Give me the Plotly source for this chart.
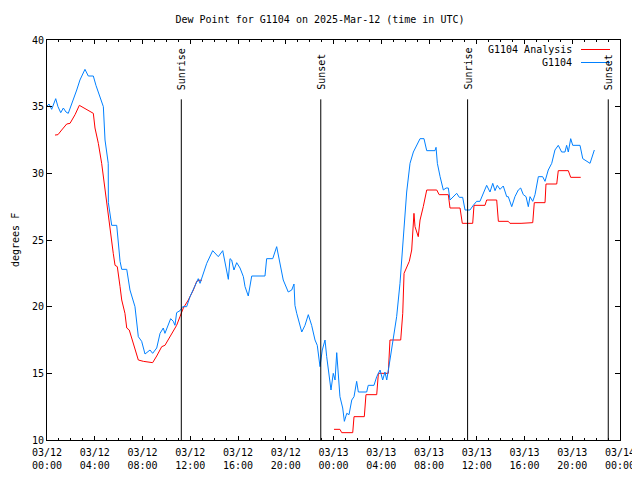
import plotly.graph_objects as go
import pandas as pd

base = pd.Timestamp("2025-03-12 00:00")

# G1104 observations: hours after 03/12 00:00 UTC, dew point (F)
obs_hours = [0.0, 0.17, 0.39, 0.73, 0.92, 1.15, 1.37, 1.59, 1.78, 2.09, 2.49, 2.76, 3.18, 3.46, 3.88,
             4.10, 4.44, 4.72, 4.86, 5.13, 5.14, 5.42, 5.84, 6.12, 6.26, 6.68, 6.95, 7.37, 7.65, 7.93,
             8.21, 8.63, 8.85, 9.19, 9.47, 9.74, 9.88, 10.36, 10.58, 10.72, 10.86, 11.14, 11.37, 11.70,
             11.98, 12.67, 12.82, 13.09, 13.38, 13.88, 14.22, 14.35, 14.72, 15.05, 15.19, 15.33, 15.47,
             15.66, 15.89, 16.17, 16.45, 16.59, 16.86, 17.15, 18.26, 18.40, 18.91, 19.24, 19.52, 19.79,
             20.21, 20.50, 20.69, 20.77, 20.92, 21.34, 21.61, 21.89, 22.17, 22.45, 22.64, 22.87, 23.06,
             23.29, 23.43, 23.65, 23.79, 23.98, 24.13, 24.27, 24.40, 24.54, 24.77, 24.91, 25.11, 25.30,
             25.53, 25.72, 25.94, 26.08, 26.78, 26.91, 27.39, 27.62, 27.90, 28.12, 28.31, 28.46, 28.73,
             29.01, 29.29, 29.57, 29.85, 30.13, 30.41, 30.69, 31.25, 31.58, 31.81, 32.50, 32.59, 32.70,
             32.93, 33.20, 33.43, 33.62, 33.76, 33.99, 34.32, 34.54, 34.82, 35.02, 35.43, 35.71, 35.99,
             36.27, 36.55, 36.83, 37.11, 37.34, 37.53, 37.72, 37.95, 38.22, 38.51, 38.64, 38.93, 39.20,
             39.48, 39.68, 39.90, 40.13, 40.32, 40.46, 40.69, 40.88, 41.16, 41.52, 41.72, 41.99, 42.28,
             42.55, 42.83, 43.11, 43.39, 43.53, 43.67, 43.87, 44.04, 44.65, 44.88, 45.35, 45.49, 45.85]
obs_values = [35.05, 35.2, 34.8, 35.6, 35.0, 34.55, 34.9, 34.6, 34.5, 35.2, 36.25, 37.0, 37.8, 37.3, 37.3,
              36.6, 35.75, 35.0, 32.5, 30.75, 27.8, 26.1, 26.1, 23.4, 22.8, 22.8, 21.25, 20.0, 17.75, 17.4,
              16.45, 16.75, 16.5, 16.9, 18.0, 18.4, 18.0, 19.1, 18.9, 18.6, 19.55, 19.7, 20.0, 20.0,
              20.75, 22.1, 21.75, 22.4, 23.25, 24.2, 23.9, 23.75, 24.2, 22.75, 22.05, 23.6, 23.5,
              22.75, 23.3, 22.9, 22.25, 21.5, 20.8, 22.3, 22.3, 23.6, 23.6, 24.5, 23.25, 22.0,
              21.1, 21.25, 21.7, 20.1, 19.5, 18.1, 18.6, 19.4, 18.6, 17.5, 17.1, 15.5, 16.75,
              17.5, 16.25, 14.5, 13.75, 15.0, 14.5, 16.55, 14.5, 13.25, 12.4, 11.4, 12.0, 11.9,
              13.0, 13.25, 14.4, 13.6, 13.6, 14.1, 14.1, 14.75, 15.25, 14.5, 15.1, 14.5, 16.0,
              17.75, 19.25, 21.75, 25.2, 28.6, 30.75, 31.6, 32.6, 32.6, 31.7, 31.7, 31.95, 30.75,
              29.75, 28.75, 28.9, 28.9, 28.0, 28.2, 28.5, 28.2, 28.2, 27.25, 27.25, 27.6, 27.9,
              27.9, 28.5, 29.1, 28.6, 29.25, 28.7, 29.1, 28.8, 29.05, 28.25, 28.25, 27.5, 28.25,
              28.75, 28.9, 28.4, 28.25, 27.5, 28.25, 27.9, 28.4, 29.75, 29.75, 29.4, 30.25, 30.75,
              31.75, 32.1, 31.6, 31.6, 32.1, 31.6, 32.6, 32.1, 32.1, 31.1, 30.8, 30.75, 31.75]

# G1104 Analysis, first and second segment
ana1_hours = [0.67, 0.92, 1.23, 1.65, 1.93, 2.35, 2.71, 2.91, 3.46, 3.88, 4.02, 4.30, 4.58, 4.86, 5.13,
              5.28, 5.42, 5.55, 5.70, 5.89, 6.12, 6.26, 6.53, 6.68, 6.89, 7.23, 7.65, 8.07, 8.49, 8.85,
              9.19, 9.61, 9.88, 10.45, 10.86, 11.14, 11.42, 11.84, 12.26, 12.54, 12.82, 12.96]
ana1_values = [32.87, 32.9, 33.25, 33.7, 33.75, 34.4, 35.1, 35.0, 34.7, 34.5, 33.4, 32.25, 30.75, 28.75, 27.0,
               25.5, 24.75, 24.0, 23.1, 23.0, 21.5, 20.5, 19.5, 18.4, 18.25, 17.25, 16.0, 15.9, 15.85, 15.8,
               16.3, 17.0, 17.1, 18.0, 18.6, 19.25, 19.9, 20.5, 21.25, 21.9, 22.0, 21.95]
ana2_hours = [24.04, 24.54, 24.69, 25.61, 25.72, 26.58, 26.72, 27.62, 27.76, 28.59, 28.73, 29.63, 29.80,
              29.91, 30.35, 30.55, 30.74, 30.83, 31.10, 31.25, 31.52, 31.81, 32.65, 32.85, 33.62, 33.76,
              34.60, 34.79, 35.66, 35.77, 36.69, 36.83, 37.67, 37.81, 38.64, 38.78, 39.71, 40.69, 40.82,
              41.72, 41.80, 42.70, 42.83, 43.67, 43.87, 44.71]
ana2_values = [10.8, 10.8, 10.55, 10.55, 11.75, 11.75, 13.4, 13.4, 15.0, 15.0, 17.5, 17.5, 19.5,
               22.5, 23.4, 24.25, 27.0, 26.0, 25.25, 26.5, 27.5, 28.75, 28.75, 28.4, 28.4, 27.4,
               27.4, 26.25, 26.25, 27.6, 27.6, 28.0, 28.0, 26.4, 26.4, 26.25, 26.25, 26.3, 27.8,
               27.8, 29.2, 29.2, 30.2, 30.2, 29.7, 29.7]

sun_labels = ["Sunrise", "Sunset", "Sunrise", "Sunset"]
sun_times = ["2025-03-12 11:15", "2025-03-12 22:56", "2025-03-13 11:14", "2025-03-13 23:01"]

tick_times = pd.date_range("2025-03-12 00:00", "2025-03-14 00:00", freq="4h")
tick_text = [t.strftime("%m/%d") + "<br>" + t.strftime("%H:%M") for t in tick_times]


def to_time(hours):
    return list(base + pd.to_timedelta(hours, unit="h"))


FONT = "DejaVu Sans Mono"
RED = "#ff0000"
BLUE = "#0080ff"

# the page body has an 8px margin; the figure is sized so the plot lands where the reference has it
OFF = 8
FIG_W, FIG_H = 640 - OFF, 480 - OFF
ML, MR, MT, MB = 47 - OFF, 20, 40 - OFF, 40
W = FIG_W - ML - MR
H = FIG_H - MT - MB

ana_x = to_time(ana1_hours) + [None] + to_time(ana2_hours)
ana_y = ana1_values + [None] + ana2_values

fig = go.Figure()
fig.add_trace(go.Scatter(x=ana_x, y=ana_y, mode="lines", name="G1104 Analysis",
                         line=dict(color=RED, width=1), connectgaps=False))
fig.add_trace(go.Scatter(x=to_time(obs_hours), y=obs_values, mode="lines", name="G1104",
                         line=dict(color=BLUE, width=1)))

shapes = []
annotations = []
for lab, t in zip(sun_labels, sun_times):
    shapes.append(dict(type="line", xref="x", yref="y", x0=t, x1=t, y0=10, y1=35.55,
                       line=dict(color="black", width=1)))
    annotations.append(dict(text=lab, x=t, y=36.1, xref="x", yref="y", textangle=-90,
                            showarrow=False, xanchor="center", yanchor="bottom",
                            font=dict(family=FONT, size=10, color="black")))

# gnuplot-style legend: text on the left, sample line on the right (reference page pixels)
legend_rows = [("G1104 Analysis", RED, 49.5), ("G1104", BLUE, 62.5)]
for text, col, py in legend_rows:
    yp = 1 - (py - 40) / H
    annotations.append(dict(text=text, x=(574 - 47) / W, y=yp, xref="paper", yref="paper",
                            showarrow=False, xanchor="right", yanchor="middle",
                            font=dict(family=FONT, size=10, color="black")))
    shapes.append(dict(type="line", xref="paper", yref="paper", x0=(581 - 47) / W, x1=(610 - 47) / W,
                       y0=yp, y1=yp, line=dict(color=col, width=1)))

# y-axis label
annotations.append(dict(text="degrees F", x=(15 - 47) / W, y=0.5, xref="paper", yref="paper",
                        textangle=-90, showarrow=False, xanchor="center", yanchor="middle",
                        font=dict(family=FONT, size=10, color="black")))

fig.update_layout(
    width=FIG_W, height=FIG_H,
    margin=dict(l=ML, r=MR, t=MT, b=MB, autoexpand=False),
    paper_bgcolor="white", plot_bgcolor="white",
    showlegend=False,
    font=dict(family=FONT, size=10, color="black"),
    title=dict(text="Dew Point for G1104 on 2025-Mar-12 (time in UTC)",
               x=(320 - OFF) / FIG_W, xanchor="center",
               xref="container", yref="container",
               y=1 - (19 - OFF) / FIG_H, yanchor="middle", font=dict(family=FONT, size=10)),
    shapes=shapes,
    annotations=annotations,
)
fig.update_xaxes(
    range=[tick_times[0], tick_times[-1]],
    tickmode="array", tickvals=list(tick_times), ticktext=tick_text,
    ticks="inside", ticklen=4, tickcolor="black", tickwidth=1,
    minor=dict(dtick=3600000, tick0="2025-03-12 00:00", ticks="inside", ticklen=2,
               tickcolor="black", showgrid=False),
    showline=True, linecolor="black", linewidth=1, mirror="allticks",
    showgrid=False, zeroline=False, automargin=False, ticklabelstandoff=3,
    tickfont=dict(family=FONT, size=10),
)
fig.update_yaxes(
    range=[10, 40], tickmode="linear", tick0=10, dtick=5,
    ticks="inside", ticklen=5, tickcolor="black", tickwidth=1,
    showline=True, linecolor="black", linewidth=1, mirror="allticks",
    showgrid=False, zeroline=False, automargin=False,
    tickfont=dict(family=FONT, size=10),
)

fig.write_html("out.html")
